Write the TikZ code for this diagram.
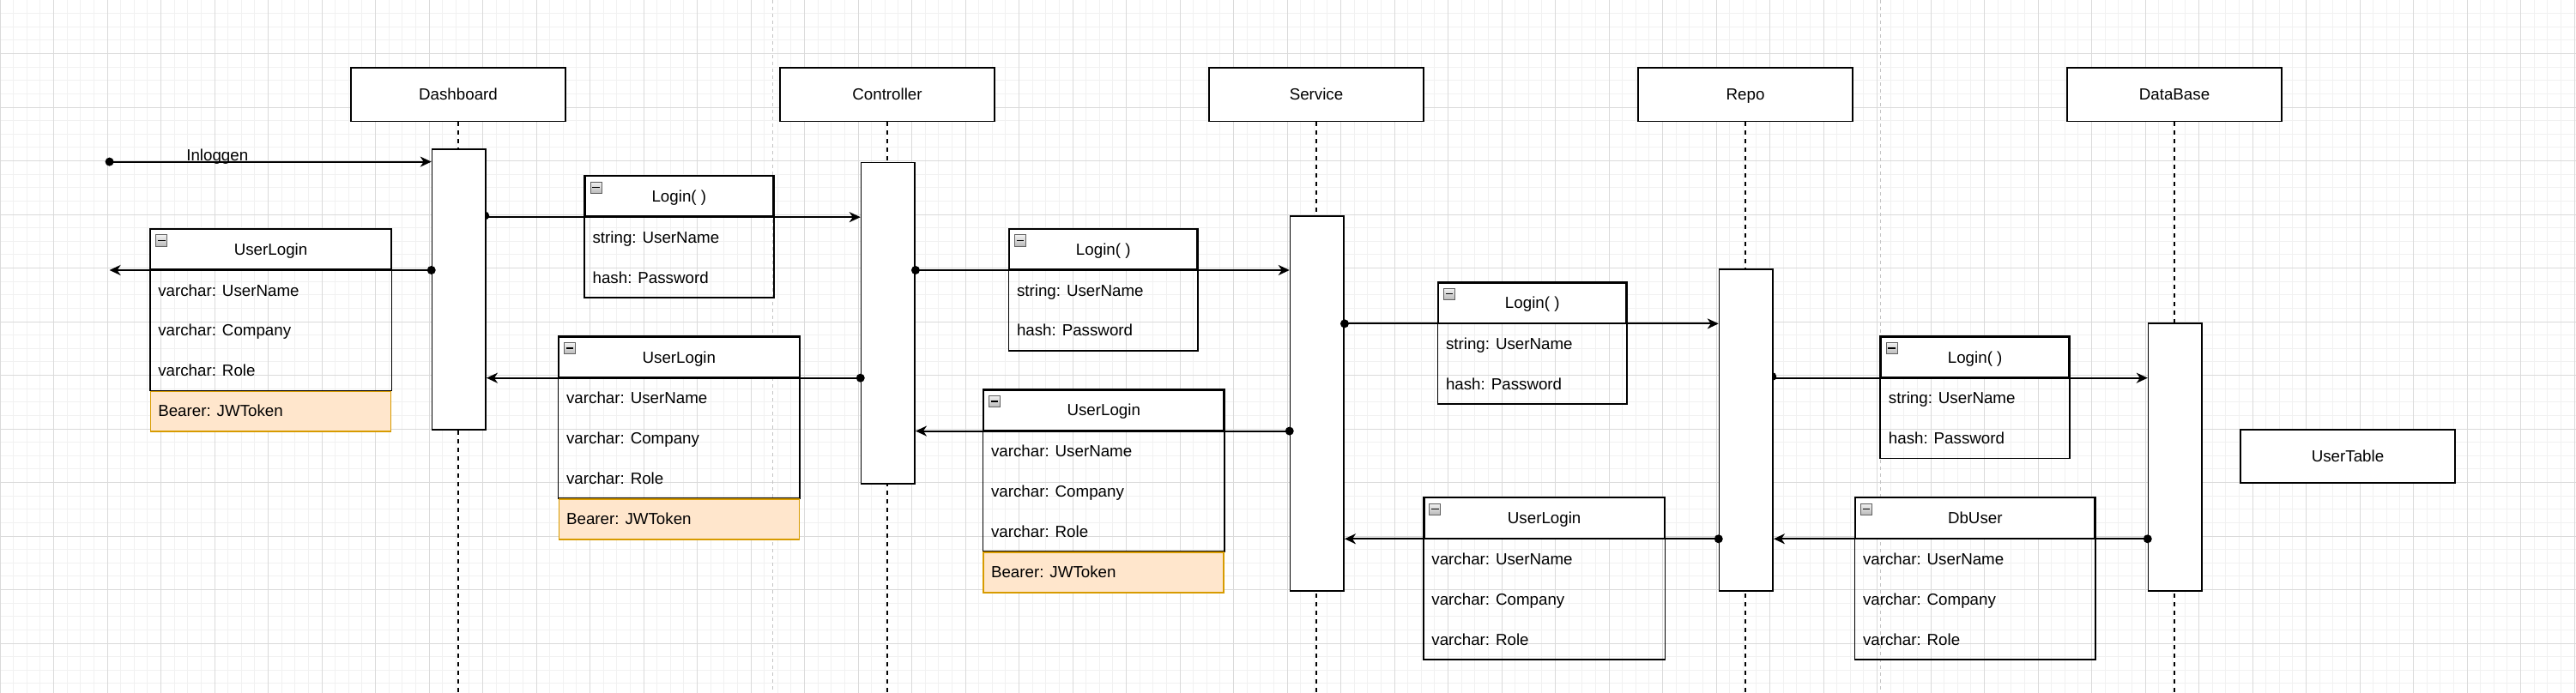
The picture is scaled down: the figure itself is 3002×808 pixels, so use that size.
\documentclass[tikz,border=0pt]{standalone}
\usepackage{fontspec}
\setmainfont{Liberation Sans}
\usetikzlibrary{arrows.meta,calc}

\definecolor{gridminor}{HTML}{F1F1F1}
\definecolor{gridmajor}{HTML}{DADADA}
\definecolor{pagebrk}{HTML}{C4C4C4}
\definecolor{orfill}{HTML}{FFE6CC}
\definecolor{orline}{HTML}{D79B00}

\tikzset{
  lifehead/.style={draw, fill=white, line width=1.7pt, minimum width=250pt, minimum height=62.5pt},
  act/.style={draw, fill=white, line width=1.7pt, minimum width=62.5pt, anchor=north west},
  clshead/.style={draw, fill=white, line width=1.7pt, minimum height=46.875pt, anchor=north west},
  clsicon/.style={draw=gray!75!black, line width=0.8pt, top color=gray!10, bottom color=gray!55, minimum width=13pt, minimum height=12pt, anchor=north west},
  clsbody/.style={draw, line width=1.7pt},
  token/.style={draw=orline, fill=orfill, line width=1.7pt, minimum height=46.875pt, anchor=north west},
  plainbox/.style={draw, fill=white, line width=1.7pt, minimum width=250pt, minimum height=62.5pt},
  msg/.style={line width=2pt, -{Stealth[length=13pt,width=12pt,inset=4pt]}},
  lifeline/.style={line width=1.6pt, dash pattern=on 5pt off 5pt},
  pagebreak/.style={draw=pagebrk, line width=1.3pt, dash pattern=on 4pt off 4pt},
}

% header of a class box: name, x, y, width, title
\newcommand{\uhead}[5]{%
  \node[clshead, minimum width=#4pt] (#1) at (#2,#3) {#5};
  \node[clsicon] (#1i) at ($(#1.north west)+(6.6,6.9)$) {};
  \draw[line width=1.3pt] ($(#1i.west)+(2.5,0)$) -- ($(#1i.east)+(-2.5,0)$);
}
% field of a class box: header name, row number, text
\newcommand{\ufield}[3]{%
  \node[anchor=west] (#1f#2) at ($(#1.south west)+(9.4,{46.875*#2-23.4375})$) {#3};
}

\begin{document}
\begin{tikzpicture}[x=1pt,y=-1pt,
  every node/.style={font=\fontsize{18.75}{22}\selectfont, inner sep=0pt, text height=13.4pt, text depth=0pt}]
\useasboundingbox (0,0) rectangle (3002,808);
\fill[white] (0,0) rectangle (3002,808);

% grid
\foreach \i in {0,...,192} \draw[gridminor, line width=1pt] (\i*15.625,0) -- (\i*15.625,808);
\foreach \j in {0,...,52} \draw[gridminor, line width=1pt] (0,\j*15.625) -- (3002,\j*15.625);
\foreach \i in {0,...,48} \draw[gridmajor, line width=1pt] (\i*62.5,0) -- (\i*62.5,808);
\foreach \j in {0,...,13} \draw[gridmajor, line width=1pt] (0,\j*62.5) -- (3002,\j*62.5);

% page breaks
\draw[pagebreak] (900.5,0) -- (900.5,808);
\draw[pagebreak] (2191.5,0) -- (2191.5,808);

% lifeline heads
\node[lifehead] (hD) at (534,110.25) {Dashboard};
\node[lifehead] (hC) at (1034,110.25) {Controller};
\node[lifehead] (hS) at (1534,110.25) {Service};
\node[lifehead] (hR) at (2034,110.25) {Repo};
\node[lifehead] (hB) at (2534,110.25) {DataBase};

\foreach \h in {hD,hC,hS,hR,hB} \draw[lifeline] (\h.south) -- (\h.south |- 0,808);

% Login 1
\uhead{L1}{681}{204.6}{219}{Login( )}
\draw[clsbody] (L1.north west) rectangle ($(L1.south east)+(0,93.75)$);
\ufield{L1}{1}{string: UserName}
\ufield{L1}{2}{hash: Password}

% UserLogin 1
\uhead{UL1}{174.7}{266.4}{280}{UserLogin}
\draw[clsbody] (UL1.north west) rectangle ($(UL1.south east)+(0,140.625)$);
\node[token, minimum width=280pt] (UL1tok) at ($(UL1.south west)+(0,140.625)$) {};
\ufield{UL1}{1}{varchar: UserName}
\ufield{UL1}{2}{varchar: Company}
\ufield{UL1}{3}{varchar: Role}
\ufield{UL1}{4}{Bearer: JWToken}

% UserLogin 2
\uhead{UL2}{650.5}{392.1}{280}{UserLogin}
\draw[clsbody] (UL2.north west) rectangle ($(UL2.south east)+(0,140.625)$);
\node[token, minimum width=280pt] (UL2tok) at ($(UL2.south west)+(0,140.625)$) {};
\ufield{UL2}{1}{varchar: UserName}
\ufield{UL2}{2}{varchar: Company}
\ufield{UL2}{3}{varchar: Role}
\ufield{UL2}{4}{Bearer: JWToken}

% Login 2
\uhead{L2}{1175.4}{266.4}{219}{Login( )}
\draw[clsbody] (L2.north west) rectangle ($(L2.south east)+(0,93.75)$);
\ufield{L2}{1}{string: UserName}
\ufield{L2}{2}{hash: Password}

% UserLogin 3
\uhead{UL3}{1145.4}{454}{280}{UserLogin}
\draw[clsbody] (UL3.north west) rectangle ($(UL3.south east)+(0,140.625)$);
\node[token, minimum width=280pt] (UL3tok) at ($(UL3.south west)+(0,140.625)$) {};
\ufield{UL3}{1}{varchar: UserName}
\ufield{UL3}{2}{varchar: Company}
\ufield{UL3}{3}{varchar: Role}
\ufield{UL3}{4}{Bearer: JWToken}

% Login 3
\uhead{L3}{1675.4}{328.8}{219}{Login( )}
\draw[clsbody] (L3.north west) rectangle ($(L3.south east)+(0,93.75)$);
\ufield{L3}{1}{string: UserName}
\ufield{L3}{2}{hash: Password}

% UserLogin 4
\uhead{UL4}{1658.8}{579.7}{280}{UserLogin}
\draw[clsbody] (UL4.north west) rectangle ($(UL4.south east)+(0,140.625)$);
\ufield{UL4}{1}{varchar: UserName}
\ufield{UL4}{2}{varchar: Company}
\ufield{UL4}{3}{varchar: Role}

% Login 4
\uhead{L4}{2191.3}{392.1}{219}{Login( )}
\draw[clsbody] (L4.north west) rectangle ($(L4.south east)+(0,93.75)$);
\ufield{L4}{1}{string: UserName}
\ufield{L4}{2}{hash: Password}

% DbUser
\uhead{DB}{2161.4}{579.7}{279}{DbUser}
\draw[clsbody] (DB.north west) rectangle ($(DB.south east)+(0,140.625)$);
\ufield{DB}{1}{varchar: UserName}
\ufield{DB}{2}{varchar: Company}
\ufield{DB}{3}{varchar: Role}

% UserTable
\node[plainbox] (UT) at (2736,532) {UserTable};

% activation positions
\coordinate (pD) at (502.75,173.1);
\coordinate (pC) at (1002.75,188.6);
\coordinate (pS) at (1502.75,251);
\coordinate (pR) at (2002.75,313.3);
\coordinate (pB) at (2502.75,376.2);

% dots half hidden behind activations
\fill (565.25,251.475) circle[radius=5pt];
\fill (2065.25,438.975) circle[radius=5pt];

% activations
\node[act, minimum height=327.3pt] (aD) at (pD) {};
\node[act, minimum height=374.6pt] (aC) at (pC) {};
\node[act, minimum height=437pt] (aS) at (pS) {};
\node[act, minimum height=374.7pt] (aR) at (pR) {};
\node[act, minimum height=311.8pt] (aB) at (pB) {};

% external points
\coordinate (ext) at (127.6,188.6);
\coordinate (outL) at (127.6,313);

% Inloggen
\fill (ext) circle[radius=5pt];
\draw[msg] (ext) -- (ext -| aD.west);
\node[anchor=base, text height=, text depth=] (inl) at (253.3,187.3) {Inloggen};

% return to outside
\fill (aD.west |- UL1.south) circle[radius=5pt];
\draw[msg] (aD.west |- UL1.south) -- (outL |- UL1.south);

% Dashboard -> Controller
\draw[msg] (aD.east |- L1.south) -- (aC.west |- L1.south);
% Controller -> Dashboard
\fill (aC.west |- UL2.south) circle[radius=5pt];
\draw[msg] (aC.west |- UL2.south) -- (aD.east |- UL2.south);

% Controller -> Service
\fill (aC.east |- L2.south) circle[radius=5pt];
\draw[msg] (aC.east |- L2.south) -- (aS.west |- L2.south);
% Service -> Controller
\fill (aS.west |- UL3.south) circle[radius=5pt];
\draw[msg] (aS.west |- UL3.south) -- (aC.east |- UL3.south);

% Service -> Repo
\fill (aS.east |- L3.south) circle[radius=5pt];
\draw[msg] (aS.east |- L3.south) -- (aR.west |- L3.south);
% Repo -> Service
\fill (aR.west |- UL4.south) circle[radius=5pt];
\draw[msg] (aR.west |- UL4.south) -- (aS.east |- UL4.south);

% Repo -> DataBase
\draw[msg] (aR.east |- L4.south) -- (aB.west |- L4.south);
% DataBase -> Repo
\fill (aB.west |- DB.south) circle[radius=5pt];
\draw[msg] (aB.west |- DB.south) -- (aR.east |- DB.south);
\end{tikzpicture}
\end{document}
